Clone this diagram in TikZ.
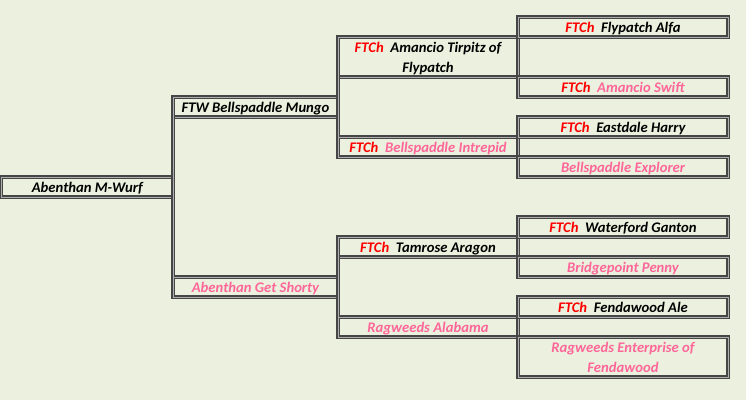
\documentclass[tikz,border=0pt]{standalone}
\usepackage{fontspec}
\setmainfont{Carlito}
\definecolor{paper}{RGB}{235,241,222}
\definecolor{rule}{RGB}{70,70,70}
\definecolor{ruleinner}{RGB}{175,175,175}
\definecolor{ftred}{RGB}{255,0,0}
\definecolor{rose}{RGB}{255,102,153}
\newcommand{\ftch}{\textcolor{ftred}{FTCh}\ \ }
\tikzset{
	cell/.style={draw=rule, double=ruleinner, line width=0.85pt, double distance=0.65pt,
		outer sep=0pt, inner sep=0pt, minimum height=15pt, align=center,
		font=\fontsize{11pt}{15pt}\selectfont\bfseries\itshape},
	oneline/.style={text height=9.5pt, text depth=1.5pt},
	twoline/.style={minimum height=30pt, text height=24.5pt, text depth=1.5pt},
	dam/.style={text=rose},
	gen1/.style={minimum width=128.6pt},
	gen2/.style={minimum width=123.75pt},
	gen3/.style={minimum width=135pt},
	gen4/.style={minimum width=157.5pt},
}
\begin{document}
\begin{tikzpicture}[x=0.75pt, y=-0.75pt]
	\fill[paper] (0,0) rectangle (746,400);
	\useasboundingbox (0,0) rectangle (746,400);
	% first and second generation
	\node[cell, oneline, gen1] (wurf) at (87.25,187) {Abenthan M-Wurf};
	\node[cell, oneline, gen2] (mungo) at (255.5,107) {FTW Bellspaddle Mungo};
	\node[cell, oneline, gen2, dam] (shorty) at (255.5,287) {Abenthan Get Shorty};
	% third generation
	\node[cell, twoline, gen3] (tirpitz) at (428,57) {\ftch Amancio Tirpitz of\\Flypatch};
	\node[cell, oneline, gen3, dam] (intrepid) at (428,147) {\ftch Bellspaddle Intrepid};
	\node[cell, oneline, gen3] (aragon) at (428,247) {\ftch Tamrose Aragon};
	\node[cell, oneline, gen3, dam] (alabama) at (428,327) {Ragweeds Alabama};
	% fourth generation
	\node[cell, oneline, gen4] (alfa) at (623,27) {\ftch Flypatch Alfa};
	\node[cell, oneline, gen4, dam] (swift) at (623,87) {\ftch Amancio Swift};
	\node[cell, oneline, gen4] (harry) at (623,127) {\ftch Eastdale Harry};
	\node[cell, oneline, gen4, dam] (explorer) at (623,167) {Bellspaddle Explorer};
	\node[cell, oneline, gen4] (ganton) at (623,227) {\ftch Waterford Ganton};
	\node[cell, oneline, gen4, dam] (penny) at (623,267) {Bridgepoint Penny};
	\node[cell, oneline, gen4] (ale) at (623,307) {\ftch Fendawood Ale};
	\node[cell, twoline, gen4, dam] (enterprise) at (623,357) {Ragweeds Enterprise of\\Fendawood};
	% brackets
	\draw[draw=rule, double=ruleinner, line width=0.85pt, double distance=0.65pt]
		(mungo.south west) -- (shorty.north west)
		(tirpitz.south west) -- (intrepid.north west)
		(aragon.south west) -- (alabama.north west)
	;
\end{tikzpicture}
\end{document}
